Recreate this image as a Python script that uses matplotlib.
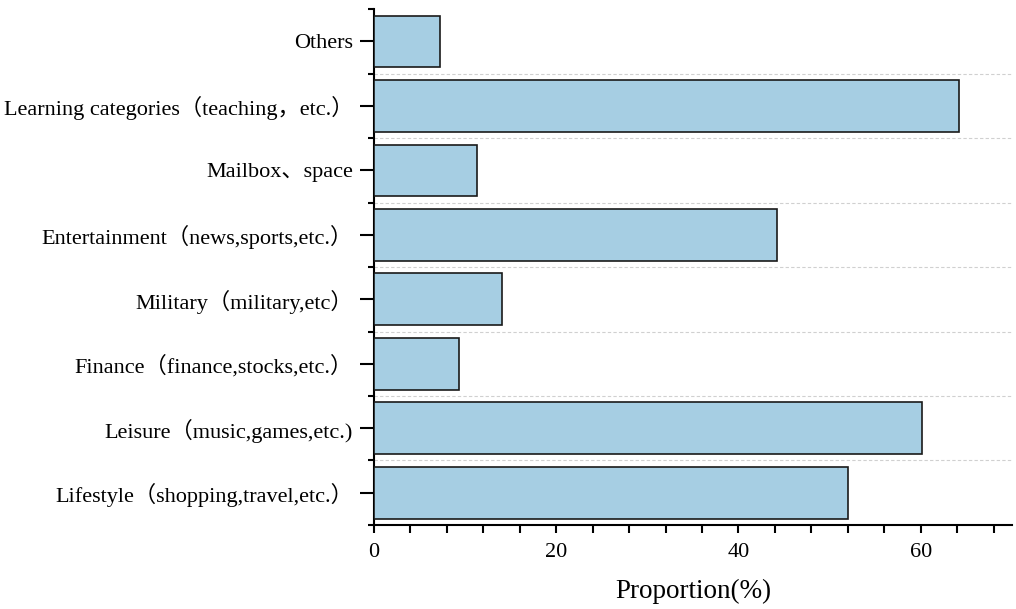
import matplotlib.pyplot as plt
import numpy as np
from matplotlib.ticker import MultipleLocator, FixedLocator

categories = [
    "Lifestyle（shopping,travel,etc.）",
    "Leisure（music,games,etc.)",
    "Finance（finance,stocks,etc.）",
    "Military（military,etc）",
    "Entertainment（news,sports,etc.）",
    "Mailbox、space",
    "Learning categories（teaching，etc.）",
    "Others",
]
proportion = [52.0, 60.1, 9.3, 14.1, 44.2, 11.3, 64.2, 7.2]

FONT = ["Liberation Serif", "Noto Sans CJK SC"]
plt.rcParams["font.family"] = FONT


def main():
    fig = plt.figure(figsize=(10.16, 6.09), dpi=100)
    ax = fig.add_axes([0.368, 0.138, 0.628, 0.847])

    y = np.arange(len(categories))
    ax.barh(y, proportion, height=0.8, color="#a6cee3",
            edgecolor="#1a1a1a", linewidth=1.2, zorder=3)

    ax.set_ylim(-0.5, len(categories) - 0.5)
    ax.set_xlim(0, 70)

    ax.set_yticks(y)
    ax.set_yticklabels(categories, fontsize=16)
    ax.yaxis.set_minor_locator(FixedLocator(np.arange(-0.5, len(categories), 1)))
    ax.xaxis.set_major_locator(MultipleLocator(20))
    ax.xaxis.set_minor_locator(MultipleLocator(4))

    ax.tick_params(axis="y", which="major", length=10, width=1.5, pad=5)
    ax.tick_params(axis="y", which="minor", length=4, width=1.5)
    ax.tick_params(axis="x", which="major", length=6, width=1.5, labelsize=16, pad=7)
    ax.tick_params(axis="x", which="minor", length=6, width=1.5)

    # dashed separators between categories
    for b in np.arange(0.5, len(categories) - 1, 1):
        ax.axhline(b, color="#d0d0d0", linestyle=(0, (3, 2)), linewidth=0.8, zorder=1)

    for side in ["top", "right"]:
        ax.spines[side].set_visible(False)
    for side in ["left", "bottom"]:
        ax.spines[side].set_linewidth(1.5)

    ax.set_xlabel("Proportion(%)", fontsize=19.5, labelpad=12)

    fig.savefig("out.png", dpi=100)
    plt.close(fig)


if __name__ == "__main__":
    main()
